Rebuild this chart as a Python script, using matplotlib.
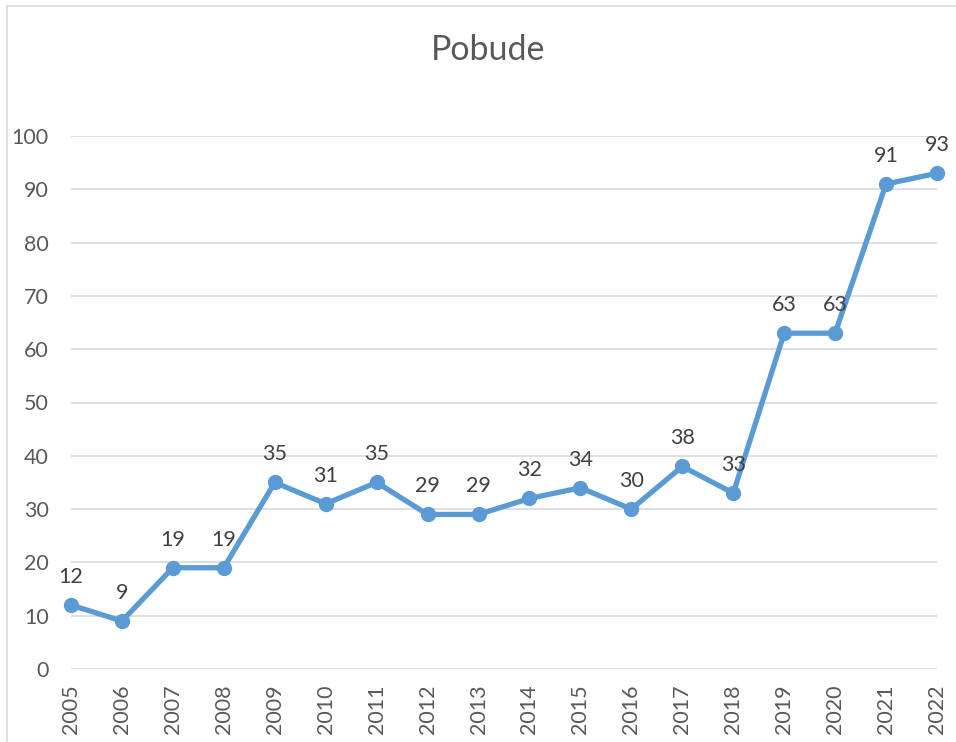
import matplotlib.pyplot as plt
from matplotlib.patches import Rectangle

years = [2005, 2006, 2007, 2008, 2009, 2010, 2011, 2012, 2013,
         2014, 2015, 2016, 2017, 2018, 2019, 2020, 2021, 2022]
values = [12, 9, 19, 19, 35, 31, 35, 29, 29, 32, 34, 30, 38, 33, 63, 63, 91, 93]
y_ticks = [0, 10, 20, 30, 40, 50, 60, 70, 80, 90, 100]

plt.rcParams['font.family'] = ['Lato', 'DejaVu Sans']
text_color = '#595959'
line_color = '#5B9BD5'
grid_color = '#D9D9D9'

fig = plt.figure(figsize=(9.56, 7.42), dpi=100)
ax = fig.add_axes([71 / 956, 1 - 669 / 742, (937 - 71) / 956, (669 - 136) / 742])

# chart border (cut off at right and bottom like the screenshot)
fig.patches.append(Rectangle((7 / 956, -0.1), 1.2, 1 - 6 / 742 + 0.1,
                             transform=fig.transFigure, fill=False,
                             edgecolor=grid_color, linewidth=1.2))

ax.plot(years, values, color=line_color, linewidth=3.8, marker='o',
        markersize=10, clip_on=False, zorder=3)

for x, v in zip(years, values):
    ax.annotate(str(v), (x, v), xytext=(0, 13), textcoords='offset points',
                ha='center', va='bottom', fontsize=15.5, color='#404040')

ax.set_xlim(years[0], years[-1])
ax.set_ylim(0, 100)
ax.set_yticks(y_ticks)
ax.set_xticks(years)
ax.set_xticklabels([str(y) for y in years], rotation=90)
ax.tick_params(axis='both', length=0, labelsize=15.5, colors=text_color)
ax.tick_params(axis='y', pad=16)
ax.tick_params(axis='x', pad=11)
ax.grid(axis='y', color=grid_color, linewidth=1.2)
ax.set_axisbelow(True)
for s in ax.spines.values():
    s.set_visible(False)

fig.text(488 / 956, 1 - 50 / 742, 'Pobude', ha='center', va='center',
         fontsize=24.5, color=text_color)

fig.savefig('out.png', dpi=100)
